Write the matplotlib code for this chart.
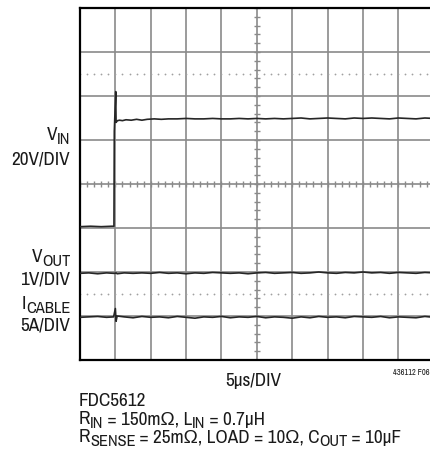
import matplotlib
matplotlib.use("Agg")
import matplotlib.pyplot as plt
import numpy as np

# scope traces in divisions (x: 0..10 div, y: 0..8 div)
vin_t = [0.0, 0.3, 0.6, 0.9, 0.96, 0.97, 1.01, 1.02, 1.06, 1.12, 1.2, 1.3, 1.45,
         1.6, 1.75, 1.9, 2.1, 2.3, 2.5, 2.75, 3.0, 3.25, 3.5, 3.75, 4.0, 4.25,
         4.5, 4.75, 5.0, 5.25, 5.5, 5.75, 6.0, 6.25, 6.5, 6.75, 7.0, 7.25, 7.5,
         7.75, 8.0, 8.25, 8.5, 8.75, 9.0, 9.25, 9.5, 9.75, 10.0]
vin_v = [3.03, 3.04, 3.03, 3.04, 3.04, 5.20, 6.10, 5.40, 5.44, 5.45, 5.44, 5.46, 5.45,
         5.47, 5.45, 5.47, 5.48, 5.47, 5.48, 5.48, 5.49, 5.48, 5.48, 5.49, 5.48, 5.48,
         5.49, 5.48, 5.49, 5.48, 5.49, 5.48, 5.49, 5.50, 5.48, 5.49, 5.50, 5.49, 5.48,
         5.50, 5.49, 5.50, 5.49, 5.48, 5.50, 5.49, 5.48, 5.50, 5.49]

trace_t = [0.0, 0.25, 0.5, 0.75, 0.95, 1.0, 1.02, 1.05, 1.25, 1.5, 1.75, 2.0, 2.25,
           2.5, 2.75, 3.0, 3.25, 3.5, 3.75, 4.0, 4.25, 4.5, 4.75, 5.0, 5.25, 5.5,
           5.75, 6.0, 6.25, 6.5, 6.75, 7.0, 7.25, 7.5, 7.75, 8.0, 8.25, 8.5, 8.75,
           9.0, 9.25, 9.5, 9.75, 10.0]
vout_v = [1.97, 1.98, 1.96, 1.98, 1.97, 1.97, 1.98, 1.96, 1.98, 1.97, 1.98, 1.97, 1.99,
          1.97, 1.98, 1.96, 1.98, 1.97, 1.99, 1.98, 1.97, 1.98, 1.96, 1.98, 1.99, 1.97,
          1.98, 1.99, 1.97, 1.98, 2.00, 1.98, 1.97, 1.99, 1.98, 2.00, 1.98, 1.99, 1.97,
          1.99, 1.98, 1.97, 1.99, 1.98]
icable_v = [0.97, 0.98, 0.99, 0.97, 0.98, 1.17, 0.88, 1.00, 0.98, 0.96, 0.99, 0.97, 0.98,
            0.96, 0.99, 0.97, 0.95, 0.98, 0.97, 0.99, 0.96, 0.98, 0.97, 0.99, 0.96, 0.98,
            0.97, 0.95, 0.98, 0.96, 0.99, 0.97, 0.98, 0.96, 0.99, 0.98, 0.97, 0.99, 0.96,
            0.98, 0.97, 0.96, 0.99, 0.97]

n_xdiv = 10
n_ydiv = 8
dotted_rows = [6.5, 1.5]

# (text, is_subscript) pieces for each label
lbl_vin = [("V", False), ("IN", True)]
lbl_vout = [("V", False), ("OUT", True)]
lbl_icable = [("I", False), ("CABLE", True)]
lbl_rin = [("R", False), ("IN", True), (" = 150mΩ, L", False), ("IN", True), (" = 0.7µH", False)]
lbl_rsense = [("R", False), ("SENSE", True), (" = 25mΩ, LOAD = 10Ω, C", False),
              ("OUT", True), (" = 10µF", False)]

plt.rcParams['font.family'] = ['Archivo Narrow', 'Liberation Sans', 'DejaVu Sans']

W, H = 431, 455
fig = plt.figure(figsize=(W / 100, H / 100), dpi=100)
ax = fig.add_axes([80 / W, (H - 360) / H, 353.7 / W, 352 / H])
ax.set_xlim(0, n_xdiv)
ax.set_ylim(0, n_ydiv)
ax.set_xticks([])
ax.set_yticks([])
for s in ['left', 'top', 'bottom']:
    ax.spines[s].set_linewidth(1.6)
    ax.spines[s].set_color('black')
ax.spines['right'].set_visible(False)

grid_col = '#8a8a8a'
for i in range(1, n_xdiv):
    ax.axvline(i, color=grid_col, lw=1.2, zorder=1)
for j in range(1, n_ydiv):
    ax.axhline(j, color=grid_col, lw=1.2, zorder=1)

# center graticule minor ticks
minor_x = np.arange(0, n_xdiv + 0.01, 0.2)
minor_y = np.arange(0, n_ydiv + 0.01, 0.2)
ax.plot(minor_x, np.full_like(minor_x, n_ydiv / 2), ls='none', marker='|',
        ms=5, mew=1.0, color=grid_col, zorder=1)
ax.plot(np.full_like(minor_y, n_xdiv / 2), minor_y, ls='none', marker='_',
        ms=5, mew=1.0, color=grid_col, zorder=1)
for r in dotted_rows:
    ax.plot(minor_x, np.full_like(minor_x, r), ls='none', marker='o',
            ms=1.3, mew=0, color='#a0a0a0', zorder=1)

trace_col = '#262626'
ax.plot(vin_t, vin_v, color=trace_col, lw=1.2, zorder=3)
ax.plot(trace_t, vout_v, color=trace_col, lw=1.2, zorder=3)
ax.plot(trace_t, icable_v, color=trace_col, lw=1.2, zorder=3)

fs = 13.8
sub_scale = 0.86
txt_col = '#1a1a1a'
renderer = fig.canvas.get_renderer()

def ftext(x, y, s, **kw):
    fig.text(x / W, 1 - y / H, s, fontsize=kw.pop('fontsize', fs), va='baseline',
             color=txt_col, **kw)

def rich(x, y, parts, ha='left'):
    # lay out main text and subscripts side by side (y is the baseline in px from top)
    objs = []
    for s, sub in parts:
        t = fig.text(0, 0, s, fontsize=fs * (sub_scale if sub else 1.0), va='baseline',
                     ha='left', color=txt_col)
        w = t.get_window_extent(renderer).width
        objs.append((t, sub, w))
    gap = -0.4
    total = sum(w + gap for _, _, w in objs)
    cur = x - total if ha == 'right' else x
    for t, sub, w in objs:
        t.set_position((cur / W, 1 - (y + (3.8 if sub else 0)) / H))
        cur += w + gap

rich(70, 140, lbl_vin, ha='right')
ftext(70, 165, '20V/DIV', ha='right')
rich(70, 262, lbl_vout, ha='right')
ftext(70, 285, '1V/DIV', ha='right')
rich(70, 309, lbl_icable, ha='right')
ftext(70, 330, '5A/DIV', ha='right')
ftext(253, 386, '5µs/DIV', ha='center')
ftext(430, 375, '436112 F06', ha='right', fontsize=6)
ftext(79, 406.5, 'FDC5612', ha='left')
rich(79, 424.5, lbl_rin)
rich(79, 442.5, lbl_rsense)

fig.savefig('out.png', dpi=100)
